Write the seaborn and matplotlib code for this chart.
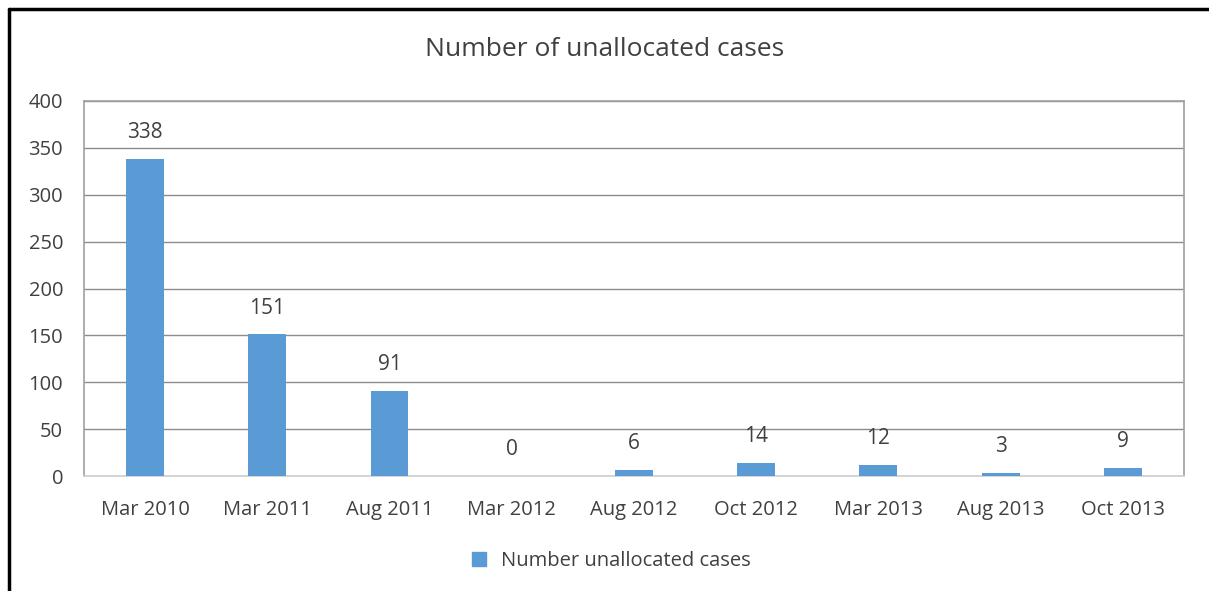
import seaborn as sns
import matplotlib.pyplot as plt
import pandas as pd
from matplotlib.lines import Line2D

months = ['Mar 2010', 'Mar 2011', 'Aug 2011', 'Mar 2012', 'Aug 2012',
          'Oct 2012', 'Mar 2013', 'Aug 2013', 'Oct 2013']
cases = [338, 151, 91, 0, 6, 14, 12, 3, 9]
y_ticks = [0, 50, 100, 150, 200, 250, 300, 350, 400]

df = pd.DataFrame({'Month': months, 'Cases': cases})

sns.set_theme(style='white')
plt.rcParams['font.family'] = ['Open Sans', 'DejaVu Sans']

fig = plt.figure(figsize=(12.09, 5.91), dpi=100)
ax = fig.add_axes([84 / 1209, 1 - 476 / 591, 1100 / 1209, 375 / 591])

sns.barplot(data=df, x='Month', y='Cases', color='#5b9bd5', saturation=1,
            width=0.31, ax=ax, zorder=3, linewidth=0)

ax.set_ylim(0, 400)
ax.set_yticks(y_ticks)
ax.yaxis.grid(True, color='#8c8c8c', linewidth=1)
ax.set_axisbelow(True)
ax.set_xlabel('')
ax.set_ylabel('')
ax.tick_params(axis='both', labelsize=14.5, colors='#404040', length=0)
ax.tick_params(axis='x', pad=17)
ax.tick_params(axis='y', pad=15)
for side in ['left', 'right', 'top']:
    ax.spines[side].set_color('#a0a0a0')
    ax.spines[side].set_linewidth(1.2)
ax.spines['bottom'].set_color('#d0d0d0')

for i, v in enumerate(cases):
    ax.text(i, v + 17, str(v), ha='center', va='bottom', fontsize=15, color='#404040')

fig.text(0.5, 1 - 50 / 591, 'Number of unallocated cases', ha='center', va='center',
         fontsize=19, color='#404040')

ax.legend(handles=[Line2D([0], [0], marker='s', color='none', markerfacecolor='#5b9bd5',
                          markeredgecolor='#5b9bd5', markersize=10)],
          labels=['Number unallocated cases'], loc='center',
          bbox_to_anchor=(0.5, 1 - 561 / 591), bbox_transform=fig.transFigure,
          frameon=False, fontsize=14.5, labelcolor='#404040', handletextpad=0.1)

# outer frame (left and top edges visible)
fig.add_artist(Line2D([9 / 1209, 9 / 1209], [0, 1 - 9 / 591], transform=fig.transFigure,
                      color='black', linewidth=2.5))
fig.add_artist(Line2D([9 / 1209, 1], [1 - 9 / 591, 1 - 9 / 591], transform=fig.transFigure,
                      color='black', linewidth=2.5))

fig.savefig('out.png', dpi=100)
